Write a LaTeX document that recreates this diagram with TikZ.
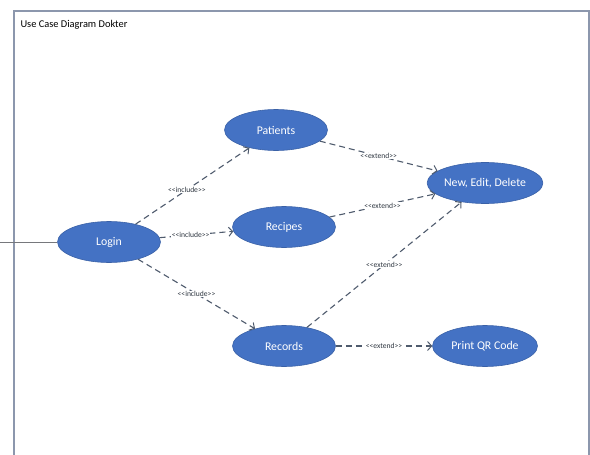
\documentclass[tikz,border=0pt]{standalone}
\usepackage{fontspec}
\setmainfont{Carlito}
\usetikzlibrary{shapes.geometric, arrows.meta}

\definecolor{ucblue}{HTML}{4472C4}
\definecolor{ucline}{HTML}{4F5B6D}
\definecolor{ucframe}{HTML}{8C97AD}

\tikzset{
  usecase/.style={ellipse, fill=ucblue, draw=ucblue!85!black, line width=0.6pt,
    minimum width=103pt, minimum height=41pt, inner sep=0pt,
    text=white, font=\fontsize{11.8}{13}\selectfont},
  rel/.style={ucline, line width=1.1pt, dash pattern=on 6pt off 4pt,
    -{Straight Barb[length=4pt,width=9pt,line width=1pt]}},
  stereo/.style={fill=white, inner sep=0.6pt, text=ucline!60!black,
    font=\fontsize{7.6}{8}\selectfont}
}

\begin{document}
\begin{tikzpicture}[x=1pt, y=-1pt]
                    \useasboundingbox (0,0) rectangle (590,455);
                    % system frame
                    \draw[ucframe, line width=1.3pt] (14,455)--(14,11)--(589,11)--(589,455);
                    \node[anchor=west, font=\fontsize{10.4}{12}\selectfont] (title) at (17,25) {Use Case Diagram Dokter};
                    % use cases
                    \node[usecase] (login) at (109,242) {Login};
                    \node[usecase] (patients) at (276,130) {Patients};
                    \node[usecase] (recipes) at (284,227) {Recipes};
                    \node[usecase] (records) at (284,346) {Records};
                    \node[usecase, minimum width=105pt] (ned) at (485,183) {New, Edit, Delete};
                    \node[usecase, minimum width=105pt] (qr) at (485,346) {Print QR Code};
                    % actor
                    \coordinate (actor) at (0,242);
                    \draw[gray!80!ucline, line width=1pt] (actor)--(login);
                    % include
                    \draw[rel] (login)--node[stereo, pos=0.45]{{<}{<}include{>}{>}} (patients);
                    \draw[rel] (login)--node[stereo, pos=0.42]{{<}{<}include{>}{>}} (recipes);
                    \draw[rel] (login)--node[stereo, pos=0.5]{{<}{<}include{>}{>}} (records);
                    % extend
                    \draw[rel] (patients)--node[stereo, pos=0.5]{{<}{<}extend{>}{>}} (ned);
                    \draw[rel] (recipes)--node[stereo, pos=0.5]{{<}{<}extend{>}{>}} (ned);
                    \draw[rel] (records)--node[stereo, pos=0.5]{{<}{<}extend{>}{>}} (ned);
                    \draw[rel] (records)--node[stereo, pos=0.5]{{<}{<}extend{>}{>}} (qr);
               \end{tikzpicture}
\end{document}
